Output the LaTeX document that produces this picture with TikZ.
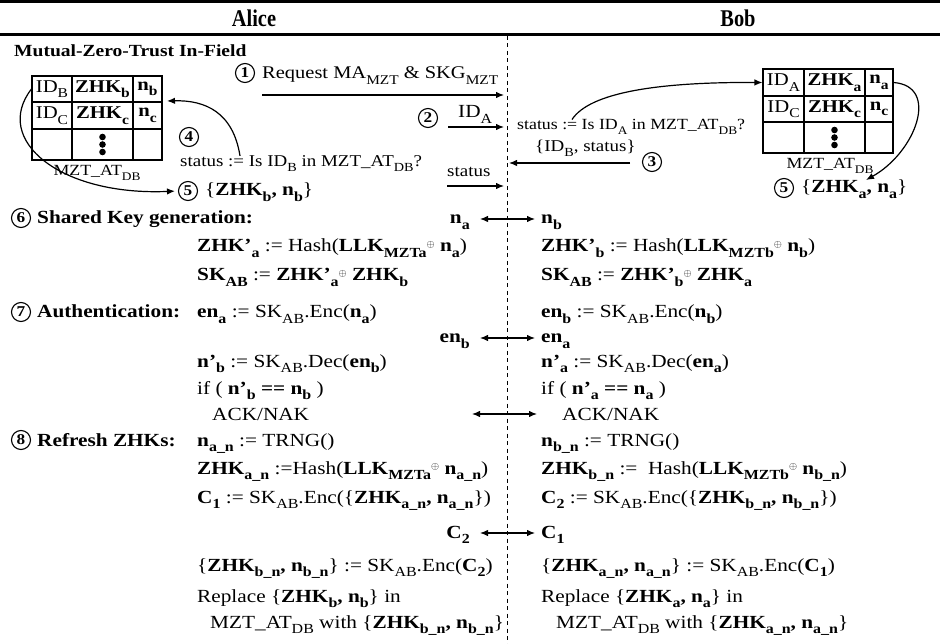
\documentclass[tikz,border=0pt]{standalone}
\usepackage{fontspec}
\setmainfont{Liberation Serif}[FakeStretch=1.15]
\newfontfamily\headfont{Liberation Serif}[FakeStretch=0.85]
\usepackage{graphicx}
\usetikzlibrary{arrows.meta}
\newcommand\lo[1]{\raisebox{-0.3em}{\scalebox{0.75}{#1}}}
\newcommand\xo{\raisebox{0.23em}{\scalebox{0.6}{$\oplus$}}}
\begin{document}
\begin{tikzpicture}[x=1pt,y=-1pt,
 body/.style={inner sep=0pt, anchor=base west, font=\fontsize{18.5}{22}\selectfont},
 bodyr/.style={body, anchor=base east},
 small/.style={inner sep=0pt, anchor=base west, font=\fontsize{16.5}{19}\selectfont},
 smaller/.style={inner sep=0pt, anchor=base west, font=\fontsize{15.5}{18}\selectfont},
 num/.style={circle, draw, line width=1.1pt, inner sep=0pt, minimum size=19pt, font=\fontsize{15}{15}\selectfont\bfseries},
 msg/.style={-{Latex[length=8pt,width=6.5pt]}, line width=1.2pt},
 dbl/.style={{Latex[length=8pt,width=6.5pt]}-{Latex[length=8pt,width=6.5pt]}, line width=1.2pt},
 rulel/.style={line width=2.6pt},
 cell/.style={draw, line width=1.1pt, inner sep=0pt, font=\fontsize{18}{20}\selectfont},
 head/.style={inner sep=0pt, font=\headfont\fontsize{24}{26}\selectfont\bfseries},
 sec/.style={inner sep=0pt, anchor=base west, font=\fontsize{18.5}{22}\selectfont\bfseries},
 dot/.style={fill=black}
]
\useasboundingbox (0,0) rectangle (940,644);
% header
\draw[rulel] (0,1.5) -- (940,1.5);
\draw[rulel] (0,34.5) -- (940,34.5);
\node[head] (alice) at (254,18) {Alice};
\node[head] (bob) at (738,18) {Bob};
\draw[line width=0.9pt, dash pattern=on 4pt off 3.5pt] (507,36) -- (507,644);

\node[sec, font=\fontsize{17}{20}\selectfont\bfseries] (mzt) at (14,57) {Mutual-Zero-Trust In-Field};

% left table
\node[cell, minimum width=40pt, minimum height=26pt] (LidB) at (52,89) {ID\lo{B}};
\node[cell, minimum width=61pt, minimum height=26pt] (LzB) at (102.5,89) {\textbf{ZHK\lo{b}}};
\node[cell, minimum width=29pt, minimum height=26pt] (LnB) at (147.5,89) {\textbf{n\lo{b}}};
\node[cell, minimum width=40pt, minimum height=27pt] (LidC) at (52,115.5) {ID\lo{C}};
\node[cell, minimum width=61pt, minimum height=27pt] (LzC) at (102.5,115.5) {\textbf{ZHK\lo{c}}};
\node[cell, minimum width=29pt, minimum height=27pt] (LnC) at (147.5,115.5) {\textbf{n\lo{c}}};
\node[cell, minimum width=40pt, minimum height=31pt] (Le1) at (52,144.5) {};
\node[cell, minimum width=61pt, minimum height=31pt] (Le2) at (102.5,144.5) {};
\node[cell, minimum width=29pt, minimum height=31pt] (Le3) at (147.5,144.5) {};
\fill[dot] (102.5,137) circle[radius=3.3pt] (102.5,144.5) circle[radius=3.3pt] (102.5,152) circle[radius=3.3pt];
\node[smaller, anchor=base] (Llab) at (97,176) {MZT\_AT\lo{DB}};

% right table
\node[cell, minimum width=41pt, minimum height=27pt] (RidA) at (783.5,82.5) {ID\lo{A}};
\node[cell, minimum width=61pt, minimum height=27pt] (RzA) at (834.5,82.5) {\textbf{ZHK\lo{a}}};
\node[cell, minimum width=28pt, minimum height=27pt] (RnA) at (879,82.5) {\textbf{n\lo{a}}};
\node[cell, minimum width=41pt, minimum height=26pt] (RidC) at (783.5,109) {ID\lo{C}};
\node[cell, minimum width=61pt, minimum height=26pt] (RzC) at (834.5,109) {\textbf{ZHK\lo{c}}};
\node[cell, minimum width=28pt, minimum height=26pt] (RnC) at (879,109) {\textbf{n\lo{c}}};
\node[cell, minimum width=41pt, minimum height=31pt] (Re1) at (783.5,137.5) {};
\node[cell, minimum width=61pt, minimum height=31pt] (Re2) at (834.5,137.5) {};
\node[cell, minimum width=28pt, minimum height=31pt] (Re3) at (879,137.5) {};
\fill[dot] (834.5,130) circle[radius=3.3pt] (834.5,137.5) circle[radius=3.3pt] (834.5,145) circle[radius=3.3pt];
\node[smaller, anchor=base] (Rlab) at (830,169) {MZT\_AT\lo{DB}};

% step 1
\node[num] (c1) at (245,73) {1};
\node[body, font=\fontsize{17.8}{20}\selectfont] (req) at (262,79) {Request MA\lo{MZT} \& SKG\lo{MZT}};
\coordinate (m1s) at (262,95);
\coordinate (m1e) at (504,95);
\draw[msg] (m1s) -- (m1e);
% step 2
\node[num] (c2) at (428,118) {2};
\node[body] (idA) at (458,118) {ID\lo{A}};
\coordinate (m2s) at (448,127);
\coordinate (m2e) at (504,127);
\draw[msg] (m2s) -- (m2e);
\node[smaller] (st2) at (517,130) {status := Is ID\lo{A} in MZT\_AT\lo{DB}?};
\draw[msg] ([xshift=55pt]st2.north west) .. controls (590,92) and (660,82) .. (RidA.west);
% step 3
\node[small] (idBst) at (535,152) {\{ID\lo{B}, status\}};
\node[num] (c3) at (652,162) {3};
\coordinate (m3s) at (630,163);
\coordinate (m3e) at (509,163);
\draw[msg] (m3s) -- (m3e);
\node[small] (stL) at (447,177) {status};
\coordinate (m4s) at (447,186);
\coordinate (m4e) at (504,186);
\draw[msg] (m4s) -- (m4e);
% step 4
\node[num] (c4) at (189,137) {4};
\node[small] (st4) at (180,167) {status := Is ID\lo{B} in MZT\_AT\lo{DB}?};
\coordinate (t4) at (167,101);
\draw[msg] ([xshift=60pt]st4.north west) .. controls (233,112) and (205,100) .. (t4);
% step 5
\node[num] (c5L) at (188,191) {5};
\node[body] (z5L) at (205,196) {\{\textbf{ZHK\lo{b}, n\lo{b}}\}};
\draw[msg, shorten >=3pt] (LidB.west) .. controls (-8,140) and (60,196) .. (c5L.west);
\node[num] (c5R) at (784,188) {5};
\node[body] (z5R) at (801,193) {\{\textbf{ZHK\lo{a}, n\lo{a}}\}};
\coordinate (t5R) at (866,180);
\draw[msg] (RnA.east) .. controls (940,86) and (916,152) .. (t5R);

% step 6
\node[num] (c6) at (21,218) {6};
\node[sec] (s6) at (37,224) {Shared Key generation:};
\node[bodyr] (na) at (470,224) {\textbf{n\lo{a}}};
\node[body] (nb) at (541,224) {\textbf{n\lo{b}}};
\draw[dbl] ([shift={(10pt,5pt)}]na.base east) -- ([shift={(-6pt,5pt)}]nb.base west);
\node[body] (l2) at (197,252) {\textbf{ZHK’\lo{a}} := Hash(\textbf{LLK\lo{MZTa}}\xo\ \textbf{n\lo{a}})};
\node[body] (r2) at (541,252) {\textbf{ZHK’\lo{b}} := Hash(\textbf{LLK\lo{MZTb}}\xo\ \textbf{n\lo{b}})};
\node[body] (l3) at (197,281) {\textbf{SK\lo{AB}} := \textbf{ZHK’\lo{a}}\xo\ \textbf{ZHK\lo{b}}};
\node[body] (r3) at (541,281) {\textbf{SK\lo{AB}} := \textbf{ZHK’\lo{b}}\xo\ \textbf{ZHK\lo{a}}};

% step 7
\node[num] (c7) at (21,312) {7};
\node[sec] (s7) at (37,318) {Authentication:};
\node[body] (l4) at (197,318) {\textbf{en\lo{a}} := SK\lo{AB}.Enc(\textbf{n\lo{a}})};
\node[body] (r4) at (541,318) {\textbf{en\lo{b}} := SK\lo{AB}.Enc(\textbf{n\lo{b}})};
\node[bodyr] (enb) at (470,343) {\textbf{en\lo{b}}};
\node[body] (ena) at (541,343) {\textbf{en\lo{a}}};
\draw[dbl] ([shift={(10pt,5pt)}]enb.base east) -- ([shift={(-6pt,5pt)}]ena.base west);
\node[body] (l6) at (197,367) {\textbf{n’\lo{b}} := SK\lo{AB}.Dec(\textbf{en\lo{b}})};
\node[body] (r6) at (541,367) {\textbf{n’\lo{a}} := SK\lo{AB}.Dec(\textbf{en\lo{a}})};
\node[body] (l7) at (197,394) {if ( \textbf{n’\lo{b} == n\lo{b}} )};
\node[body] (r7) at (541,394) {if ( \textbf{n’\lo{a} == n\lo{a}} )};
\node[body] (l8) at (212,420) {ACK/NAK};
\node[body] (r8) at (562,420) {ACK/NAK};
\coordinate (ackL) at (472,414);
\coordinate (ackR) at (537,414);
\draw[dbl] (ackL) -- (ackR);

% step 8
\node[num] (c8) at (21,440) {8};
\node[sec] (s8) at (37,446) {Refresh ZHKs:};
\node[body] (l9) at (197,446) {\textbf{n\lo{a\_n}} := TRNG()};
\node[body] (r9) at (541,446) {\textbf{n\lo{b\_n}} := TRNG()};
\node[body] (l10) at (197,474) {\textbf{ZHK\lo{a\_n}} :=Hash(\textbf{LLK\lo{MZTa}}\xo\ \textbf{n\lo{a\_n}})};
\node[body] (r10) at (541,474) {\textbf{ZHK\lo{b\_n}} :=\ \ Hash(\textbf{LLK\lo{MZTb}}\xo\ \textbf{n\lo{b\_n}})};
\node[body] (l11) at (197,503) {\textbf{C\lo{1}} := SK\lo{AB}.Enc(\{\textbf{ZHK\lo{a\_n}, n\lo{a\_n}}\})};
\node[body] (r11) at (541,503) {\textbf{C\lo{2}} := SK\lo{AB}.Enc(\{\textbf{ZHK\lo{b\_n}, n\lo{b\_n}}\})};
\node[bodyr] (C2) at (470,538) {\textbf{C\lo{2}}};
\node[body] (C1) at (541,538) {\textbf{C\lo{1}}};
\draw[dbl] ([shift={(10pt,5pt)}]C2.base east) -- ([shift={(-6pt,5pt)}]C1.base west);
\node[body] (l13) at (197,571) {\{\textbf{ZHK\lo{b\_n}, n\lo{b\_n}}\} := SK\lo{AB}.Enc(\textbf{C\lo{2}})};
\node[body] (r13) at (541,571) {\{\textbf{ZHK\lo{a\_n}, n\lo{a\_n}}\} := SK\lo{AB}.Enc(\textbf{C\lo{1}})};
\node[body] (l14) at (197,602) {Replace \{\textbf{ZHK\lo{b}, n\lo{b}}\} in};
\node[body] (r14) at (541,602) {Replace \{\textbf{ZHK\lo{a}, n\lo{a}}\} in};
\node[body] (l15) at (210,628) {MZT\_AT\lo{DB} with \{\textbf{ZHK\lo{b\_n}, n\lo{b\_n}}\}};
\node[body] (r15) at (556,628) {MZT\_AT\lo{DB} with \{\textbf{ZHK\lo{a\_n}, n\lo{a\_n}}\}};
\end{tikzpicture}
\end{document}
